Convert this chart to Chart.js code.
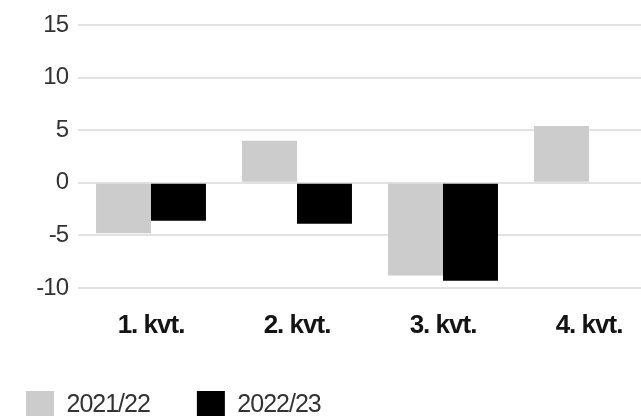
<!DOCTYPE html>
<html>
<head>
<meta charset="utf-8">
<script src="https://cdn.jsdelivr.net/npm/chart.js@4"></script>
<style>
    html, body { margin: 0; padding: 0; background: #fff; overflow: hidden; width: 641px; height: 416px; }
    #chart { display: block; }
</style>
</head>
<body>
<canvas id="chart" width="664" height="429"></canvas>
<script>
// kvartaler og serier
const kvartaler = ['1. kvt.', '2. kvt.', '3. kvt.', '4. kvt.'];
const serie2122 = [-4.8, 4.0, -8.8, 5.4];
const serie2223 = [-3.6, -3.9, -9.3, null];
const yTicks = [15, 10, 5, 0, -5, -10];

const LEGEND_PAD = 47;

// stram sporing som i forlaget
const tightText = {
    id: 'tightText',
    beforeUpdate(chart) { chart.ctx.letterSpacing = '-1px'; },
    beforeDraw(chart) { chart.ctx.letterSpacing = '-1px'; },
    afterLayout(chart) {
        if (chart.legend) chart.legend.left = 26 - LEGEND_PAD;
    }
};

const ctx = document.getElementById('chart');

new Chart(ctx, {
    type: 'bar',
    data: {
        labels: kvartaler,
        datasets: [{
            label: '2021/22',
            data: serie2122,
            backgroundColor: '#cccccc',
            borderWidth: 0
        }, {
            label: '2022/23',
            data: serie2223,
            backgroundColor: '#000000',
            borderWidth: 0
        }]
    },
    options: {
        responsive: false,
        animation: false,
        categoryPercentage: 0.753,
        barPercentage: 1.0,
        layout: {
            padding: { top: 25, left: 0, right: 2, bottom: 0 }
        },
        scales: {
            x: {
                grid: { display: false, drawTicks: false },
                border: { display: false },
                ticks: {
                    padding: 22,
                    color: '#141414',
                    font: { family: 'Liberation Sans', size: 26, weight: 'bold' }
                },
                afterFit: function (scale) { scale.height = 56; }
            },
            y: {
                min: -10,
                max: 15,
                afterBuildTicks: function (scale) {
                    scale.ticks = yTicks.map(v => ({ value: v }));
                },
                grid: { color: '#e2e2e2', lineWidth: 2, drawTicks: false },
                border: { display: false },
                ticks: {
                    padding: 10,
                    color: '#333333',
                    font: { family: 'Liberation Sans', size: 24 }
                },
                afterFit: function (scale) { scale.width = 78; }
            }
        },
        plugins: {
            legend: {
                position: 'bottom',
                align: 'start',
                labels: {
                    boxWidth: 28,
                    boxHeight: 28,
                    padding: LEGEND_PAD,
                    color: '#333333',
                    font: { family: 'Liberation Sans', size: 25 }
                }
            },
            tooltip: { enabled: false }
        }
    },
    plugins: [tightText]
});
</script>
</body>
</html>
